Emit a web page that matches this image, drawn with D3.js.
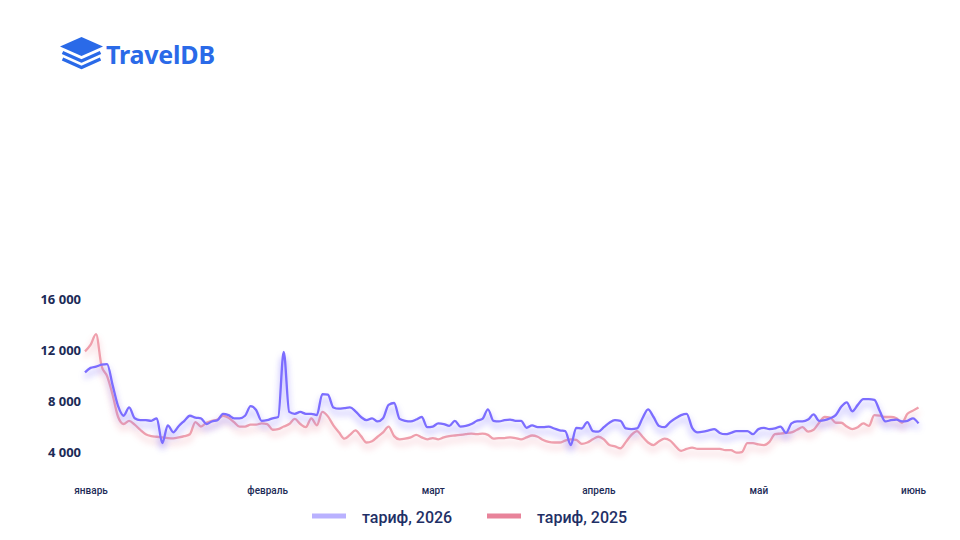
<!DOCTYPE html>
<html>
<head>
<meta charset="utf-8">
<script src="https://cdn.jsdelivr.net/npm/d3@7"></script>
<style>
  html, body { margin: 0; padding: 0; background: #fff; }
  svg { display: block; }
</style>
</head>
<body>
<div id="chart"></div>
<script>
// tariff per day, day 0 = 1 January
var tariff2026 = [
  10300, 10650, 10750, 10900, 10950, 9300, 7650, 6900, 7550, 6700,
  6550, 6550, 6500, 6700, 4750, 6150, 5600, 6100, 6500, 6900,
  6750, 6700, 6250, 6450, 6550, 7050, 6950, 6700, 6700, 6900,
  7650, 7350, 6500, 6550, 6700, 6800, 11900, 7200, 7050, 7200,
  7050, 7050, 6950, 8600, 8550, 7550, 7450, 7500, 7550, 7250,
  6800, 6550, 6700, 6450, 6700, 7750, 7900, 6650, 6500, 6450,
  6600, 6800, 6000, 6050, 6300, 6250, 6100, 6500, 6050, 6100,
  6250, 6500, 6650, 7400, 6500, 6450, 6550, 6600, 6500, 6500,
  5950, 6150, 6000, 6000, 6050, 5900, 5750, 5700, 4600, 5950,
  5900, 6400, 5700, 5650, 6000, 6350, 6550, 6500, 5900, 5850,
  5900, 6700, 7400, 6800, 6100, 6000, 6400, 6700, 6950, 7050,
  5950, 5600, 5650, 5750, 5850, 5550, 5450, 5550, 5700, 5700,
  5700, 5450, 5850, 5950, 5850, 5900, 6050, 5550, 6300, 6450,
  6450, 6600, 7000, 6500, 6550, 6700, 6950, 7600, 7950, 7250,
  7750, 8200, 8200, 8150, 7250, 6450, 6550, 6600, 6450, 6500,
  6700, 6300
];

var tariff2025 = [
  11950, 12450, 13300, 10800, 10000, 8550, 6800, 6250, 6500, 6200,
  5800, 5450, 5300, 5250, 5200, 5150, 5130, 5200, 5300, 5450,
  6400, 6050, 6350, 6500, 6600, 6900, 6750, 6400, 6050, 6050,
  6200, 6200, 6300, 6250, 5800, 5850, 6050, 6250, 6650, 6250,
  6000, 6700, 6150, 7200, 6850, 6150, 5600, 5100, 5400, 5750,
  5300, 4800, 4900, 5250, 5600, 6050, 5300, 5050, 5100, 5200,
  5400, 5200, 5050, 5150, 5050, 5200, 5300, 5350, 5400, 5450,
  5500, 5450, 5500, 5400, 5100, 5150, 5150, 5200, 5150, 5050,
  5200, 5350, 5250, 5000, 4850, 4800, 4800, 4950, 5050, 5000,
  4700, 4800, 5050, 5250, 5050, 4600, 4500, 4350, 4850, 5400,
  5700, 5250, 4800, 4600, 4900, 5100, 4950, 4500, 4150, 4300,
  4400, 4300, 4300, 4300, 4300, 4300, 4200, 4200, 4000, 4050,
  4750, 4750, 4650, 4600, 4850, 5450, 5500, 5550, 5600, 5800,
  6000, 5650, 5800, 6350, 6800, 6750, 6350, 6350, 6050, 5850,
  6000, 6300, 6100, 6950, 6900, 6800, 6800, 6700, 6350, 7050,
  7300, 7550
];

var yTicks = [4000, 8000, 12000, 16000];
var monthLabels = ["январь", "февраль", "март", "апрель", "май", "июнь"];
var monthDays = [1, 33, 63, 93, 122, 150];

var seriesNames = ["тариф, 2026", "тариф, 2025"];
var lineColors = ["#7b6dff", "#ef9fac"];
var swatchColors = ["#b9b1ff", "#e8839a"];

var width = 960,
  height = 540;

var svg = d3.select("#chart").append("svg")
  .attr("width", width)
  .attr("height", height);

var defs = svg.append("defs");

// soft glow under each line
lineColors.forEach(function(c, i) {
  var f = defs.append("filter")
    .attr("id", "glow" + i)
    .attr("x", "-5%").attr("y", "-40%")
    .attr("width", "110%").attr("height", "200%");
  f.append("feGaussianBlur")
    .attr("in", "SourceGraphic")
    .attr("stdDeviation", 3.8)
    .attr("result", "blur");
  f.append("feOffset")
    .attr("in", "blur").attr("dy", 4.5)
    .attr("result", "off");
  f.append("feComponentTransfer")
    .attr("in", "off").attr("result", "soft")
    .append("feFuncA").attr("type", "linear").attr("slope", 0.7);
  var m = f.append("feMerge");
  m.append("feMergeNode").attr("in", "soft");
  m.append("feMergeNode").attr("in", "SourceGraphic");
});

// logo
var logo = svg.append("g").attr("transform", "translate(60,37)");
logo.append("path")
  .attr("d", "M21.5 0 L43 9.5 L21.5 19 L0 9.5 Z")
  .attr("fill", "#2a6ae8");
logo.append("path")
  .attr("d", "M2.5 15.5 L21.5 24 L40.5 15.5")
  .attr("fill", "none").attr("stroke", "#2a6ae8")
  .attr("stroke-width", 3.4).attr("stroke-linejoin", "round");
logo.append("path")
  .attr("d", "M2.5 22 L21.5 30.5 L40.5 22")
  .attr("fill", "none").attr("stroke", "#2a6ae8")
  .attr("stroke-width", 3.4).attr("stroke-linejoin", "round");
svg.append("text")
  .attr("x", 106).attr("y", 64)
  .attr("font-family", "'Noto Sans', sans-serif")
  .attr("font-weight", 700)
  .attr("font-size", 25)
  .attr("letter-spacing", -0.2)
  .attr("fill", "#2a6ae8")
  .text("TravelDB");

var x = d3.scaleLinear()
  .domain([0, tariff2026.length - 1])
  .range([85, 918.5]);

var y = d3.scaleLinear()
  .domain([4000, 16000])
  .range([452.7, 299.7]);

// y labels
var yAxis = svg.append("g")
  .attr("transform", "translate(81,0)")
  .call(d3.axisLeft(y).tickValues(yTicks).tickSize(0).tickPadding(0)
    .tickFormat(function(d) { return d3.format(",")(d).replace(",", " "); }));
yAxis.select(".domain").remove();
yAxis.selectAll("text")
  .attr("font-family", "'Noto Sans', sans-serif")
  .attr("font-weight", 700)
  .attr("font-size", 13)
  .attr("fill", "#1c2b57");

// month labels
var xAxis = svg.append("g")
  .attr("transform", "translate(0,487)")
  .call(d3.axisBottom(x).tickValues(monthDays).tickSize(0).tickPadding(0)
    .tickFormat(function(d, i) { return monthLabels[i]; }));
xAxis.select(".domain").remove();
xAxis.selectAll("text")
  .attr("font-family", "Roboto, sans-serif")
  .attr("font-weight", 500)
  .attr("font-size", 10)
  .attr("fill", "#1c2b57");

var line = d3.line()
  .x(function(d, i) { return x(i); })
  .y(function(d) { return y(d); })
  .curve(d3.curveMonotoneX);

[tariff2025, tariff2026].forEach(function(s, k) {
  var i = 1 - k;
  svg.append("path")
    .datum(s)
    .attr("fill", "none")
    .attr("stroke", lineColors[i])
    .attr("stroke-width", 2.3)
    .attr("stroke-linejoin", "round")
    .attr("filter", "url(#glow" + i + ")")
    .attr("d", line);
});

// legend
var legend = svg.append("g");
var legX = [312, 487];
seriesNames.forEach(function(n, i) {
  legend.append("rect")
    .attr("x", legX[i]).attr("y", 513.5)
    .attr("width", 34).attr("height", 5)
    .attr("fill", swatchColors[i]);
  legend.append("text")
    .attr("x", legX[i] + 50).attr("y", 522.5)
    .attr("font-family", "Roboto, sans-serif")
    .attr("font-weight", 500)
    .attr("font-size", 16)
    .attr("fill", "#1f3066")
    .text(n);
});
</script>
</body>
</html>
